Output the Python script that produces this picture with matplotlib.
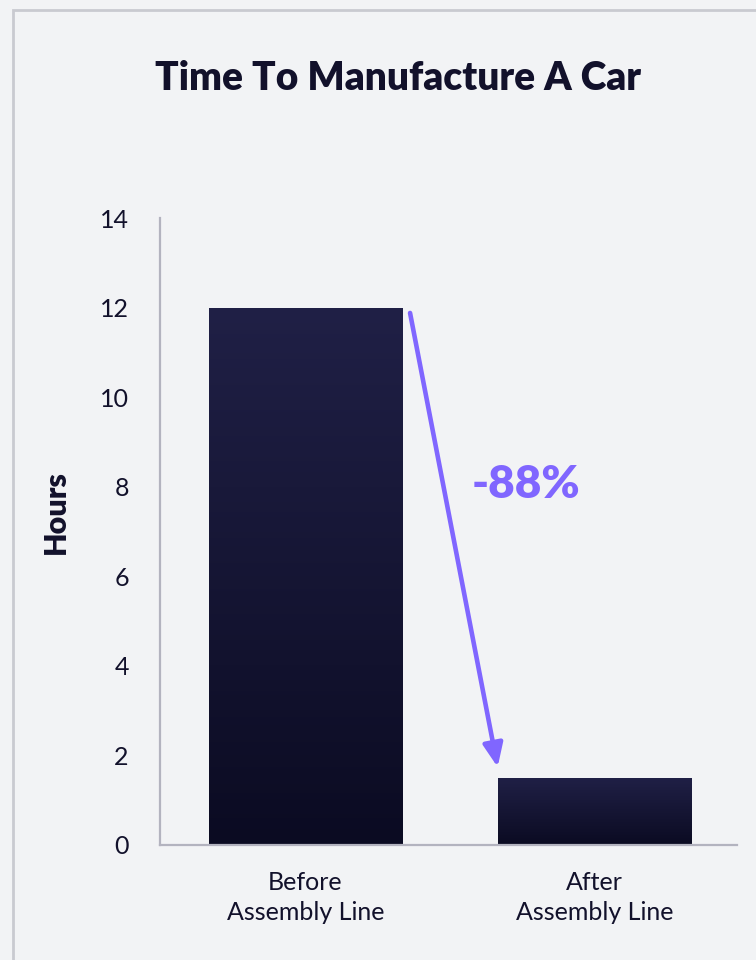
import matplotlib
matplotlib.use("Agg")
import matplotlib.pyplot as plt
import numpy as np
from matplotlib.patches import Rectangle, FancyArrowPatch
from matplotlib.colors import LinearSegmentedColormap

categories = ["Before\nAssembly Line", "After\nAssembly Line"]
values = [12, 1.5]
yticks = [0, 2, 4, 6, 8, 10, 12, 14]
title = "Time To Manufacture A Car"
ylabel = "Hours"

BG = "#f2f3f5"
DARK = "#12112b"
PURPLE = "#8066ff"
plt.rcParams["font.family"] = ["Lato", "DejaVu Sans"]

fig = plt.figure(figsize=(7.56, 9.6), dpi=100, facecolor=BG)
ax = fig.add_axes([160/756, 1-845/960, (737-160)/756, (845-218)/960])
ax.set_facecolor(BG)

# card border
fig.patches.append(Rectangle((13/756, -0.1), 2, 1 - 10/960 + 0.1, transform=fig.transFigure,
                             fill=False, edgecolor="#c9cad0", linewidth=2, zorder=0))

x = np.arange(len(categories))
width = 0.668
cmap = LinearSegmentedColormap.from_list("g", ["#0b0b22", "#202046"])
grad = np.linspace(0, 1, 256).reshape(-1, 1)
bars = ax.bar(x, values, width=width, color="none", edgecolor="none")
for b in bars:
    x0, y0, w, h = b.get_x(), b.get_y(), b.get_width(), b.get_height()
    im = ax.imshow(grad, extent=[x0, x0 + w, y0, y0 + h], origin="lower",
                   cmap=cmap, aspect="auto", zorder=2)
    im.set_clip_path(b)

ax.set_xlim(-0.503, 1.493)
ax.set_ylim(0, 14)
ax.set_yticks(yticks)
ax.set_yticklabels([str(t) for t in yticks], fontsize=18, color=DARK)
ax.set_xticks(x)
ax.set_xticklabels(categories, fontsize=18, color=DARK, linespacing=1.4)
ax.tick_params(axis="both", length=0)
ax.tick_params(axis="y", pad=22.5)
ax.tick_params(axis="x", pad=18.5)
for s in ["top", "right"]:
    ax.spines[s].set_visible(False)
for s in ["left", "bottom"]:
    ax.spines[s].set_color("#b3b3bf")
    ax.spines[s].set_linewidth(1.6)

ax.set_ylabel(ylabel, fontsize=22, fontweight="heavy", color=DARK)
ax.yaxis.set_label_coords(-0.157, 0.531)

# change arrow
start = (x[0] + width/2 + 0.028, values[0] - 0.12)
end = (x[1] - width/2 - 0.001, values[1] + 0.24)
arr = FancyArrowPatch(start, end, arrowstyle="-|>,head_length=14,head_width=6",
                      color=PURPLE, linewidth=3.3, shrinkA=0, shrinkB=0,
                      mutation_scale=1, zorder=3)
ax.add_patch(arr)
pct = round((values[1] - values[0]) / values[0] * 100)
ax.text(0.762, 8.05, f"{pct}%", fontsize=33, fontweight="heavy", color=PURPLE,
        ha="center", va="center")

fig.text(398/756, 1 - 78/960, title, fontsize=28, fontweight="heavy", color=DARK,
         ha="center", va="center")

fig.savefig("out.png", dpi=100, facecolor=BG)
